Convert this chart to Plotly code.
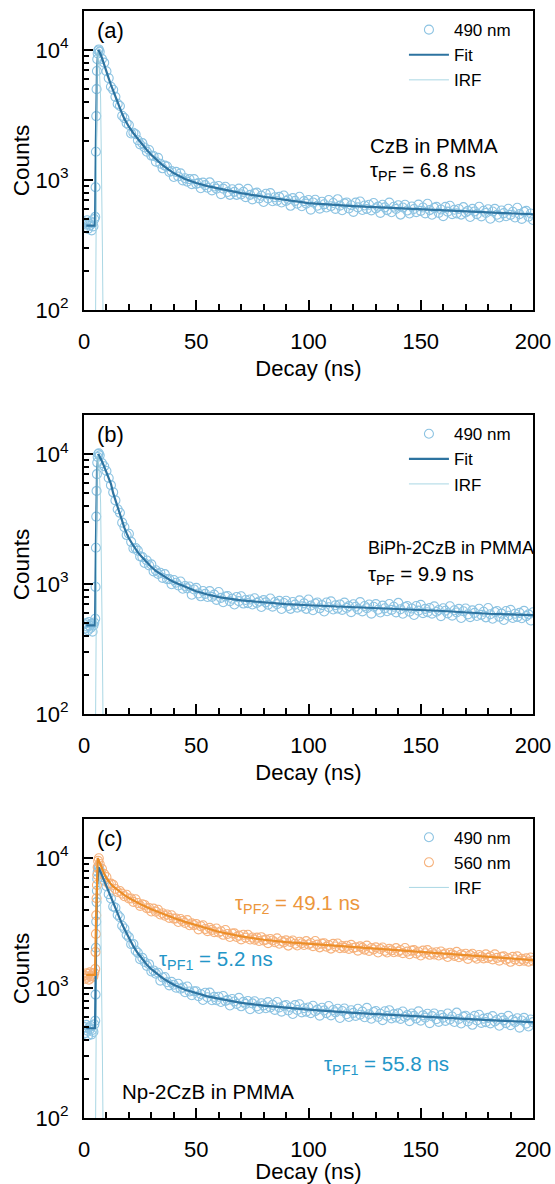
import plotly.graph_objects as go

# ---------------- data ----------------
t_early = [0.2, 0.6, 1.0, 1.4, 1.8, 2.2, 2.6, 3.0, 3.4, 3.8, 4.2, 4.6, 5.0, 5.15, 5.3, 5.45, 5.6, 5.75, 5.9, 6.1, 6.3, 6.6]
t_main = list(range(7, 201))

a_early = [470, 430, 455, 490, 420, 460, 445, 480, 410, 465, 440, 500, 520, 880, 1650, 3100, 5000, 6900, 8500, 9400, 9900, 10100]
a_main = [9710, 8540, 7990, 6860, 6080, 5220, 4950, 4360, 3850, 3710,
          3120, 2990, 2730, 2650, 2280, 2310, 2250, 2020, 1880, 1920,
          1780, 1650, 1700, 1540, 1530, 1385, 1480, 1335, 1230, 1290,
          1270, 1155, 1170, 1055, 1155, 1065, 1125, 993, 1031, 972,
          1015, 929, 1016, 934, 947, 864, 955, 913, 871, 958,
          832, 892, 857, 898, 779, 858, 887, 808, 769, 849,
          811, 769, 858, 775, 811, 738, 855, 769, 710, 790,
          799, 722, 757, 677, 783, 722, 793, 687, 736, 693,
          741, 671, 760, 690, 708, 633, 726, 691, 657, 744,
          628, 688, 658, 702, 592, 672, 704, 634, 602, 681,
          650, 614, 702, 628, 665, 600, 712, 635, 585, 661,
          672, 604, 640, 569, 670, 616, 683, 588, 636, 598,
          645, 584, 666, 605, 624, 559, 645, 616, 587, 670,
          565, 623, 598, 640, 542, 615, 645, 582, 553, 626,
          598, 566, 647, 579, 614, 554, 657, 587, 541, 611,
          621, 559, 593, 527, 621, 571, 634, 546, 590, 554,
          598, 542, 618, 562, 579, 519, 600, 573, 546, 622,
          525, 580, 557, 596, 503, 572, 600, 541, 515, 582,
          556, 526, 601, 539, 570, 515, 612, 546, 502, 570,
          579, 522, 553, 492]

b_early = [490, 455, 500, 470, 440, 510, 475, 460, 495, 430, 480, 505, 540, 950, 1900, 3300, 5200, 7000, 8600, 9500, 10000, 10150]
b_main = [9770, 8520, 8050, 7410, 6535, 5760, 5075, 4400, 3760, 3530,
          2965, 2740, 2380, 2435, 2110, 1880, 1890, 1805, 1630, 1610,
          1450, 1515, 1390, 1415, 1250, 1275, 1193, 1220, 1115, 1190,
          1090, 1090, 995, 1073, 1022, 974, 1045, 920, 965, 926,
          956, 826, 908, 933, 846, 804, 883, 840, 794, 881,
          796, 828, 755, 867, 782, 724, 801, 808, 737, 770,
          695, 795, 738, 804, 707, 753, 713, 759, 696, 777,
          715, 733, 666, 752, 722, 693, 773, 669, 726, 700,
          741, 642, 714, 743, 677, 644, 727, 694, 658, 748,
          673, 710, 644, 759, 681, 628, 708, 720, 650, 688,
          614, 720, 663, 735, 636, 686, 647, 696, 632, 719,
          655, 675, 607, 699, 668, 638, 725, 615, 677, 651,
          695, 591, 668, 700, 634, 604, 681, 651, 617, 702,
          632, 668, 605, 715, 640, 590, 666, 677, 612, 647,
          578, 677, 624, 691, 597, 644, 606, 653, 591, 673,
          612, 631, 566, 651, 622, 594, 674, 571, 628, 603,
          643, 547, 617, 647, 584, 556, 627, 599, 567, 645,
          579, 612, 554, 653, 585, 540, 609, 619, 559, 591,
          528, 619, 570, 632, 547, 590, 557, 600, 545, 621,
          566, 584, 524, 606]

c490_early = [500, 450, 520, 470, 430, 495, 480, 510, 440, 475, 460, 525, 560, 890, 2040, 3240, 4580, 5600, 6900, 7800, 8400, 8500]
c490_main = [8080, 7110, 6680, 6060, 5270, 4880, 4230, 4145, 3650, 3500,
             3010, 2865, 2565, 2460, 2170, 2180, 1940, 1865, 1665, 1705,
             1585, 1480, 1525, 1340, 1365, 1290, 1310, 1140, 1205, 1215,
             1108, 1048, 1115, 1060, 1004, 1078, 986, 1007, 928, 1026,
             939, 879, 944, 944, 865, 899, 808, 919, 849, 921,
             806, 855, 806, 856, 780, 867, 794, 810, 733, 823,
             788, 753, 839, 723, 782, 753, 795, 687, 761, 790,
             722, 690, 764, 733, 698, 779, 708, 741, 679, 781,
             708, 658, 730, 740, 671, 708, 631, 739, 679, 750,
             649, 699, 658, 708, 641, 730, 663, 682, 613, 704,
             672, 641, 727, 616, 677, 650, 693, 588, 665, 696,
             629, 598, 675, 644, 610, 693, 623, 658, 596, 703,
             629, 580, 654, 665, 599, 634, 566, 662, 610, 675,
             584, 630, 593, 638, 579, 659, 599, 618, 556, 637,
             610, 582, 661, 561, 616, 592, 633, 537, 608, 637,
             576, 549, 618, 591, 559, 636, 572, 604, 548, 646,
             578, 533, 602, 611, 553, 583, 521, 610, 562, 622,
             539, 581, 546, 589, 534, 608, 553, 570, 512, 589,
             564, 537, 610, 518, 569, 547, 585, 496, 562, 589,
             532, 506, 572, 546]

c560_early = [1250, 1180, 1300, 1220, 1280, 1160, 1320, 1240, 1200, 1270, 1230, 1310, 1400, 1890, 2600, 3630, 4900, 6200, 7400, 8500, 9500, 9950]
c560_main = [9000, 8265, 7520, 7125, 6335, 6350, 6215, 5780, 5480, 5575,
             5320, 5075, 5215, 4880, 4880, 4600, 4815, 4510, 4285, 4405,
             4355, 4105, 4120, 3880, 4080, 3865, 4000, 3680, 3755, 3600,
             3675, 3460, 3625, 3420, 3425, 3220, 3395, 3280, 3165, 3330,
             3040, 3140, 3045, 3110, 2825, 2990, 3040, 2840, 2740, 2900,
             2800, 2690, 2865, 2670, 2730, 2565, 2790, 2600, 2470, 2625,
             2630, 2470, 2530, 2365, 2565, 2440, 2570, 2360, 2445, 2355,
             2440, 2300, 2460, 2325, 2355, 2215, 2385, 2320, 2250, 2410,
             2190, 2300, 2245, 2325, 2120, 2265, 2320, 2190, 2125, 2270,
             2208, 2140, 2295, 2160, 2220, 2100, 2300, 2155, 2055, 2195,
             2210, 2080, 2140, 2010, 2185, 2085, 2200, 2025, 2105, 2035,
             2115, 2000, 2145, 2030, 2060, 1940, 2090, 2035, 1975, 2120,
             1930, 2030, 1980, 2055, 1875, 1995, 2050, 1930, 1875, 2000,
             1948, 1885, 2025, 1905, 1960, 1855, 2030, 1905, 1820, 1940,
             1955, 1845, 1900, 1780, 1940, 1850, 1955, 1800, 1875, 1810,
             1885, 1780, 1910, 1810, 1840, 1730, 1865, 1815, 1765, 1895,
             1725, 1815, 1770, 1835, 1675, 1790, 1835, 1730, 1680, 1795,
             1745, 1690, 1815, 1705, 1755, 1660, 1815, 1705, 1625, 1735,
             1750, 1650, 1695, 1590, 1735, 1655, 1750, 1610, 1675, 1620,
             1690, 1595, 1715, 1625]

# fits
tfit_a = [1.0, 4.9, 5.3, 5.8, 6.4, 7, 8, 9, 10, 11, 12, 13, 14, 15, 16, 17, 18, 19, 20, 22, 24, 26, 28, 30, 32, 35, 38, 40, 45, 50, 55, 60, 70, 80, 90, 100, 120, 140, 160, 180, 200]
fit_a = [445, 445, 2000, 7500, 10000, 9600, 8700, 7800, 6900, 6050, 5400, 4850, 4350, 3920, 3550, 3230, 2950, 2750, 2570, 2290, 2060, 1870, 1700, 1560, 1440, 1300, 1190, 1130, 1017, 948, 898, 858, 793, 743, 703, 663, 630, 605, 584, 563, 545]

tfit_b = [1.0, 4.9, 5.3, 5.8, 6.4, 7, 8, 9, 10, 11, 12, 13, 14, 15, 16, 17, 18, 19, 20, 22, 24, 26, 28, 30, 32, 35, 38, 40, 45, 50, 55, 60, 70, 80, 90, 100, 120, 140, 160, 180, 200]
fit_b = [480, 480, 2000, 7500, 10000, 9600, 8800, 8000, 7250, 6600, 5900, 5000, 4400, 3850, 3400, 3000, 2700, 2450, 2250, 1970, 1750, 1600, 1465, 1350, 1260, 1160, 1080, 1037, 949, 880, 831, 792, 747, 720, 700, 686, 665, 645, 620, 590, 576]

tfit_c490 = [1.0, 4.9, 5.3, 5.8, 6.5, 7, 8, 9, 10, 11, 12, 13, 14, 15, 16, 17, 18, 19, 20, 22, 24, 26, 28, 30, 32, 35, 38, 40, 45, 50, 55, 60, 70, 80, 90, 100, 120, 140, 160, 180, 200]
fit_c490 = [490, 490, 1800, 6000, 8500, 8100, 7300, 6600, 5950, 5350, 4850, 4420, 4030, 3680, 3370, 3090, 2840, 2610, 2410, 2090, 1850, 1660, 1510, 1395, 1300, 1190, 1106, 1060, 970, 909, 863, 828, 769, 733, 705, 682, 644, 615, 591, 567, 546]

tfit_c560 = [1.0, 4.9, 5.3, 5.7, 6.1, 7, 8, 9, 10, 11, 12, 13, 14, 15, 16, 18, 20, 22, 25, 30, 35, 40, 45, 50, 55, 60, 70, 80, 90, 100, 120, 140, 160, 180, 200]
fit_c560 = [1260, 1260, 3000, 7000, 10000, 9200, 8200, 7550, 7000, 6600, 6300, 6050, 5850, 5650, 5480, 5180, 4930, 4720, 4430, 4030, 3720, 3450, 3225, 3030, 2860, 2710, 2495, 2350, 2255, 2190, 2050, 1930, 1830, 1730, 1640]

# instrument response
t_irf = [4.7, 5.0, 5.2, 5.4, 5.6, 5.9, 6.3, 6.8, 7.4, 7.9, 8.2, 8.5, 8.8]
irf = [5, 30, 100, 900, 4000, 9800, 9500, 7500, 4200, 1200, 300, 80, 15]

x_ticks = [0, 50, 100, 150, 200]
y_ticks = [100, 1000, 10000]
y_ticktext = ["10<sup>2</sup>", "10<sup>3</sup>", "10<sup>4</sup>"]

# ---------------- style ----------------
FONT = "Liberation Sans, Arial, sans-serif"
C_DATA = "rgb(140,195,226)"
C_FIT = "rgb(45,115,160)"
C_IRF = "rgb(170,215,228)"
C_ODATA = "rgb(246,178,125)"
C_OFIT = "rgb(236,142,40)"
C_TXT_B = "rgb(35,150,200)"
C_TXT_O = "rgb(236,150,60)"

fig = go.Figure()

def data_trace(x, y, name, color, xa, ya, leg, show=True):
    return go.Scatter(x=x, y=y, mode="markers", name=name, legend=leg, showlegend=show,
                      xaxis=xa, yaxis=ya,
                      marker=dict(symbol="circle-open", size=9, color=color, line=dict(width=1.1, color=color)))

def line_trace(x, y, name, color, width, xa, ya, leg, show=True):
    return go.Scatter(x=x, y=y, mode="lines", name=name, legend=leg, showlegend=show,
                      xaxis=xa, yaxis=ya, line=dict(color=color, width=width))

# panel (a)
fig.add_trace(data_trace(t_early + t_main, a_early + a_main, "490 nm", C_DATA, "x", "y", "legend"))
fig.add_trace(line_trace(tfit_a, fit_a, "Fit", C_FIT, 2.2, "x", "y", "legend"))
fig.add_trace(line_trace(t_irf, irf, "IRF", C_IRF, 1, "x", "y", "legend"))
# panel (b)
fig.add_trace(data_trace(t_early + t_main, b_early + b_main, "490 nm", C_DATA, "x2", "y2", "legend2"))
fig.add_trace(line_trace(tfit_b, fit_b, "Fit", C_FIT, 2.2, "x2", "y2", "legend2"))
fig.add_trace(line_trace(t_irf, irf, "IRF", C_IRF, 1, "x2", "y2", "legend2"))
# panel (c)
fig.add_trace(data_trace(t_early + t_main, c490_early + c490_main, "490 nm", C_DATA, "x3", "y3", "legend3"))
fig.add_trace(data_trace(t_early + t_main, c560_early + c560_main, "560 nm", C_ODATA, "x3", "y3", "legend3"))
fig.add_trace(line_trace(t_irf, irf, "IRF", C_IRF, 1, "x3", "y3", "legend3"))
fig.add_trace(line_trace(tfit_c490, fit_c490, "Fit 490", C_FIT, 2.2, "x3", "y3", "legend3", show=False))
fig.add_trace(line_trace(tfit_c560, fit_c560, "Fit 560", C_OFIT, 2.2, "x3", "y3", "legend3", show=False))

minor_x = [v for v in range(10, 200, 10) if v % 50]
minor_y = [m * 10 ** e for e in (2, 3, 4) for m in range(2, 10)]

def xaxis(anchor):
    return dict(anchor=anchor, domain=[0, 1], range=[0, 200], showline=True, linewidth=2,
                linecolor="black", mirror=True, ticks="inside", ticklen=10, tickwidth=2,
                tickcolor="black", tickvals=x_ticks, showgrid=False, zeroline=False,
                minor=dict(ticks="inside", ticklen=6, tickwidth=1.5, tickcolor="black",
                           tickvals=minor_x, showgrid=False),
                tickfont=dict(size=22, color="black"), ticklabelstandoff=11,
                title=dict(text="Decay (ns)", font=dict(size=22, color="black"), standoff=7))

def yaxis(anchor, domain):
    return dict(anchor=anchor, domain=domain, type="log", range=[2, 4.30], showline=True,
                linewidth=2, linecolor="black", mirror=True, ticks="inside", ticklen=9,
                tickwidth=2, tickcolor="black", tickvals=y_ticks, ticktext=y_ticktext,
                showgrid=False, zeroline=False,
                minor=dict(ticks="inside", ticklen=5, tickwidth=1.5, tickcolor="black",
                           tickvals=minor_y, showgrid=False),
                tickfont=dict(size=22, color="black"), ticklabelstandoff=9,
                title=dict(text="Counts", font=dict(size=22.5, color="black"), standoff=0))

def legend(y):
    return dict(x=0.962, xanchor="right", y=y, yanchor="top", bgcolor="rgba(0,0,0,0)",
                font=dict(size=17, color="black", family=FONT), itemwidth=40,
                tracegroupgap=0)

fig.update_layout(
    width=555, height=1184, paper_bgcolor="white", plot_bgcolor="white",
    margin=dict(l=84, r=22, t=11, b=66, autoexpand=False),
    font=dict(family=FONT, color="black", size=21),
    xaxis=xaxis("y"), yaxis=yaxis("x", [0.7299, 1.0]),
    xaxis2=xaxis("y2"), yaxis2=yaxis("x2", [0.3650, 0.6350]),
    xaxis3=xaxis("y3"), yaxis3=yaxis("x3", [0.0, 0.2701]),
    legend=legend(0.999), legend2=legend(0.634), legend3=legend(0.2695),
    showlegend=True,
)

def ann(x, y, text, xr, yr, color="black", xanchor="left", size=20.5):
    return dict(x=x, y=y, xref=xr, yref=yr, text=text, showarrow=False, xanchor=xanchor,
                yanchor="middle", font=dict(size=size, color=color, family=FONT))

anns = [
    ann(11.6, 4.15, "(a)", "x", "y", xanchor="center", size=22),
    ann(126.5, 3.269, "CzB in PMMA", "x", "y"),
    ann(126.5, 3.07, "τ<sub>PF</sub> = 6.8 ns", "x", "y"),
    ann(11.6, 4.15, "(b)", "x2", "y2", xanchor="center", size=22),
    ann(125.6, 3.28, "BiPh-2CzB in PMMA", "x2", "y2", size=18),
    ann(125.6, 3.07, "τ<sub>PF</sub> = 9.9 ns", "x2", "y2"),
    ann(11.6, 4.15, "(c)", "x3", "y3", xanchor="center", size=22),
    ann(66.5, 3.645, "τ<sub>PF2</sub> = 49.1 ns", "x3", "y3", color=C_TXT_O),
    ann(32.5, 3.215, "τ<sub>PF1</sub> = 5.2 ns", "x3", "y3", color=C_TXT_B),
    ann(106.0, 2.405, "τ<sub>PF1</sub> = 55.8 ns", "x3", "y3", color=C_TXT_B),
    ann(16.0, 2.2, "Np-2CzB in PMMA", "x3", "y3"),
]
fig.update_layout(annotations=anns)

fig.write_html("out.html")
